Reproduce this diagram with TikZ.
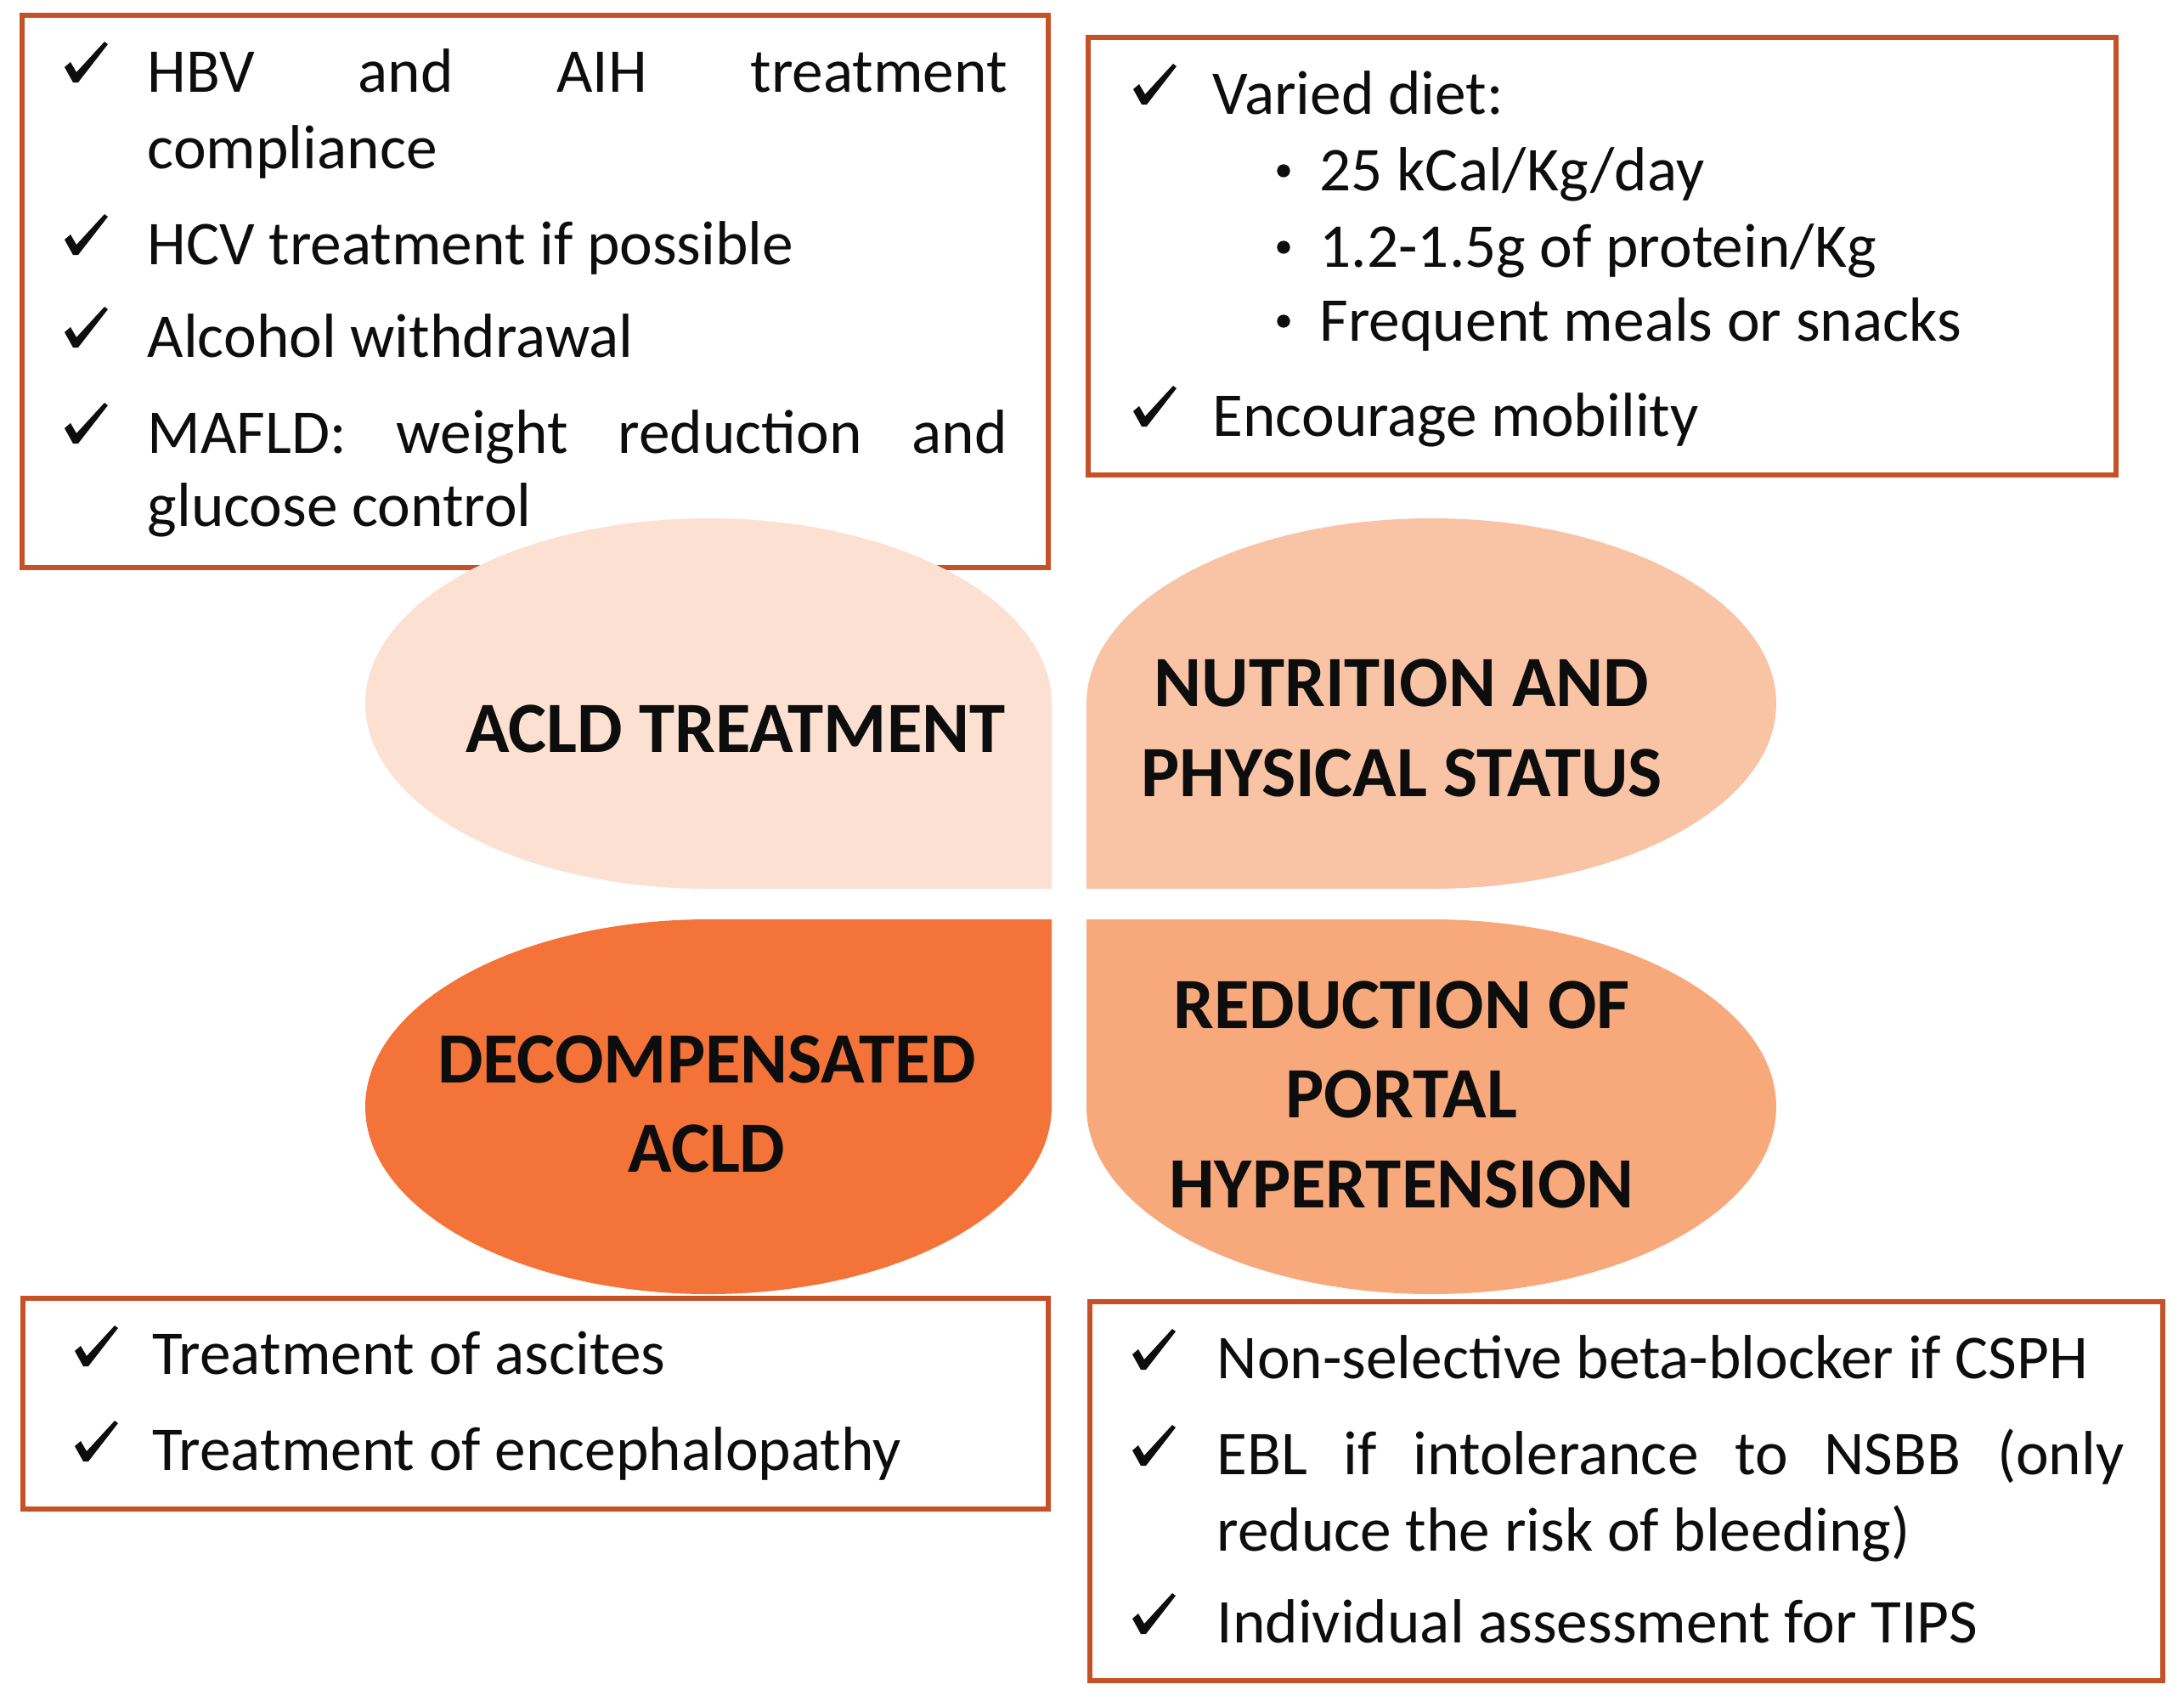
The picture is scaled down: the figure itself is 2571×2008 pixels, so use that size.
\documentclass[tikz,border=0pt]{standalone}
\usepackage{fontspec}
\setmainfont{Carlito}
\definecolor{boxline}{HTML}{C65126}
\definecolor{ptl}{HTML}{FCE1D3}
\definecolor{ptr}{HTML}{F9C4A5}
\definecolor{pbl}{HTML}{F37338}
\definecolor{pbr}{HTML}{F7A97B}
\definecolor{txtcol}{HTML}{0D0D0D}
\begin{document}
\begin{tikzpicture}[x=0.3pt,y=-0.3pt,
  panel/.style={draw=boxline, line width=2pt},
  body/.style={inner sep=0pt, anchor=base west, text=txtcol, font=\fontsize{22}{26}\selectfont},
  lbl/.style={inner sep=0pt, anchor=base, text=txtcol, font=\fontsize{25.5}{30}\selectfont\bfseries},
  dot/.style={circle, fill=txtcol, inner sep=0pt, minimum size=4.6pt},
  chk/.pic={\fill[txtcol] (0,-18) -- (7,-24) -- (14,-12) -- (47,-48) -- (51,-45) -- (16,0) -- (10,0) -- cycle;}
]
\useasboundingbox[fill=white] (0,0) rectangle (2571,2008);

% boxes
\draw[panel] (26,18) rectangle (1234,668);
\draw[panel] (1281,44) rectangle (2491,559);
\draw[panel] (27,1528) rectangle (1234,1776);
\draw[panel] (1283,1532) rectangle (2546,1978);

% petals
\fill[ptl] (1238,1046) -- (1238,828) arc[start angle=0, end angle=270, x radius=121.2pt, y radius=65.4pt] -- cycle;
\fill[ptr] (1279,1046) -- (1685,1046) arc[start angle=-90, end angle=180, x radius=121.8pt, y radius=65.4pt] -- cycle;
\fill[pbl] (1238,1082) -- (834,1082) arc[start angle=90, end angle=360, x radius=121.2pt, y radius=66.15pt] -- cycle;
\fill[pbr] (1279,1082) -- (1279,1302.5) arc[start angle=180, end angle=450, x radius=121.8pt, y radius=66.15pt] -- cycle;

% petal labels
\node[lbl] (t1) at (866,885) {ACLD TREATMENT};
\node[lbl] (t2a) at (1650,831) {NUTRITION AND};
\node[lbl] (t2b) at (1650,937) {PHYSICAL STATUS};
\node[lbl] (t3a) at (832,1274) {DECOMPENSATED};
\node[lbl] (t3b) at (832,1379) {ACLD};
\node[lbl] (t4a) at (1650,1210) {REDUCTION OF};
\node[lbl] (t4b) at (1650,1315) {PORTAL};
\node[lbl] (t4c) at (1650,1421) {HYPERTENSION};

% box 1
\pic at (76,97) {chk};
\pic at (76,300) {chk};
\pic at (76,409) {chk};
\pic at (76,522) {chk};
\node[body] (a1) at (173,108) {\makebox[303.6pt][s]{HBV and AIH treatment}};
\node[body] (a2) at (173,198) {compliance};
\node[body] (a3) at (173,311) {HCV treatment if possible};
\node[body] (a4) at (173,420) {Alcohol withdrawal};
\node[body] (a5) at (173,533) {\makebox[303.6pt][s]{MAFLD: weight reduction and}};
\node[body] (a6) at (173,619) {glucose control};

% box 2
\pic at (1334,123) {chk};
\pic at (1334,502) {chk};
\node[body] (b1) at (1427,134) {Varied diet:};
\node[dot] (b2d) at (1511,201) {};
\node[body] (b2) at (1553,224) {25 kCal/Kg/day};
\node[dot] (b3d) at (1511,291) {};
\node[body] (b3) at (1553,314) {1.2-1.5g of protein/Kg};
\node[dot] (b4d) at (1511,378) {};
\node[body] (b4) at (1553,401) {Frequent meals or snacks};
\node[body] (b5) at (1427,513) {Encourage mobility};

% box 3
\pic at (88,1608) {chk};
\pic at (88,1720) {chk};
\node[body] (c1) at (179,1617) {Treatment of ascites};
\node[body] (c2) at (179,1730) {Treatment of encephalopathy};

% box 4
\pic at (1333,1612) {chk};
\pic at (1333,1725) {chk};
\pic at (1333,1923) {chk};
\node[body] (d1) at (1432,1622) {Non-selective beta-blocker if CSPH};
\node[body] (d2) at (1432,1735) {\makebox[320.4pt][s]{EBL if intolerance to NSBB (only}};
\node[body] (d3) at (1432,1825) {reduce the risk of bleeding)};
\node[body] (d4) at (1432,1933) {Individual assessment for TIPS};
\end{tikzpicture}
\end{document}
